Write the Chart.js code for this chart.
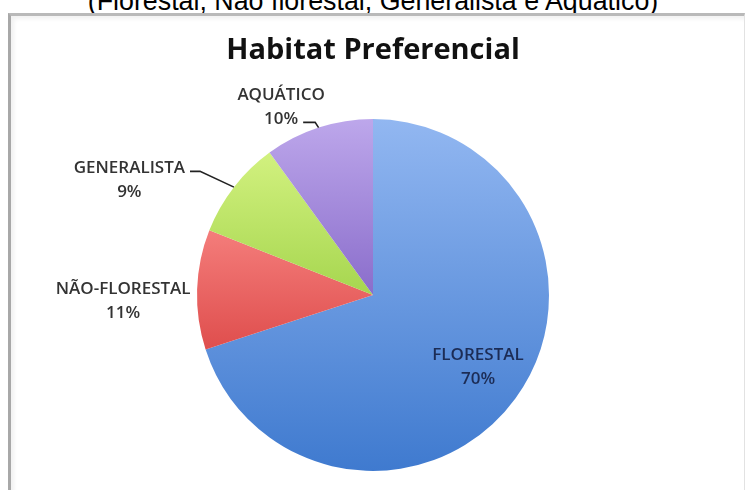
<!DOCTYPE html>
<html>
<head>
<meta charset="utf-8">
<script src="https://cdn.jsdelivr.net/npm/chart.js@4.4.0/dist/chart.umd.min.js"></script>
<style>
html, body { margin: 0; padding: 0; background: #fff; width: 746px; height: 490px; overflow: hidden; }
#caption { position: absolute; left: 0; top: -14px; width: 746px; text-align: center;
  font: 26.8px "Liberation Sans", Arial, sans-serif; line-height: 30px; color: #000; }
#frame { position: absolute; left: 8px; top: 13px; width: 733px; height: 500px;
  border-top: 3px solid #b9b9b9; border-left: 3px solid #a8a8a8; border-right: 1px solid #e2e2e2;
  box-shadow: inset 3px 3px 4px rgba(0,0,0,0.06); }
#chart { position: absolute; left: 0; top: 0; }
</style>
</head>
<body>
<div id="caption">(Florestal, Não florestal, Generalista e Aquático)</div>
<div id="frame"></div>
<canvas id="chart" width="746" height="490"></canvas>
<script>
// habitat shares (%)
const categories = ['FLORESTAL', 'NÃO-FLORESTAL', 'GENERALISTA', 'AQUÁTICO'];
const shares = [70, 11, 9, 10];

// light -> dark vertical shading for each slice
const sliceTop = ['#92b7f1', '#f47d7b', '#d2f17f', '#bda7eb'];
const sliceBottom = ['#3f7acf', '#df4e4d', '#a6d64f', '#8a6dcb'];

// label placement: distance in radii, angle nudge in degrees
const labelDistance = [0.725, 1.42, 1.53, 1.187];
const labelShift = [-1.4, -3.3, -12.6, -8.1];
const labelColor = ['#1c2c55', '#333', '#333', '#333'];
// which text row the leader line starts from (null = no leader)
const leaderRow = [null, null, 0, 1];
const leaderElbow = [0, 0, 10, 12];

function sliceGradient(c) {
  const chart = c.chart;
  const i = c.dataIndex;
  const area = chart.chartArea;
  if (!area) return sliceTop[i];
  // pie geometry straight from the chart area
  const cx = (area.left + area.right) / 2;
  const cy = (area.top + area.bottom) / 2;
  const r = Math.min(area.right - area.left, area.bottom - area.top) / 2;
  const total = shares.reduce((s, v) => s + v, 0);
  const before = shares.slice(0, i).reduce((s, v) => s + v, 0);
  const a0 = -Math.PI / 2 + before / total * 2 * Math.PI;
  const a1 = a0 + shares[i] / total * 2 * Math.PI;
  // vertical extent of the slice
  const ys = [cy];
  const steps = 36;
  for (let k = 0; k <= steps; k++) {
    ys.push(cy + Math.sin(a0 + (a1 - a0) * k / steps) * r);
  }
  const y0 = Math.min(...ys), y1 = Math.max(...ys);
  const g = chart.ctx.createLinearGradient(0, y0, 0, y1);
  g.addColorStop(0, sliceTop[i]);
  g.addColorStop(1, sliceBottom[i]);
  return g;
}

const pieLabels = {
  id: 'pieLabels',
  afterDatasetsDraw(chart) {
    const ctx = chart.ctx;
    const arcs = chart.getDatasetMeta(0).data;
    const rowGap = 24;
    ctx.save();
    ctx.font = '600 17px "Open Sans", sans-serif';
    ctx.textAlign = 'center';
    ctx.textBaseline = 'middle';
    arcs.forEach((arc, i) => {
      const { x, y, startAngle, endAngle, outerRadius } =
        arc.getProps(['x', 'y', 'startAngle', 'endAngle', 'outerRadius'], true);
      const mid = (startAngle + endAngle) / 2;
      const a = mid + labelShift[i] * Math.PI / 180;
      const d = outerRadius * labelDistance[i];
      const lx = x + Math.cos(a) * d;
      const ly = y + Math.sin(a) * d;
      const rows = [categories[i], shares[i] + '%'];
      ctx.fillStyle = labelColor[i];
      rows.forEach((t, k) => ctx.fillText(t, lx, ly + (k - 0.5) * rowGap));

      if (leaderRow[i] !== null) {
        const r = leaderRow[i];
        const ry = ly + (r - 0.5) * rowGap + 3;
        const ax = lx + ctx.measureText(rows[r]).width / 2 + 5;
        const ex = x + Math.cos(mid) * outerRadius;
        const ey = y + Math.sin(mid) * outerRadius;
        ctx.beginPath();
        ctx.moveTo(ax, ry);
        ctx.lineTo(ax + leaderElbow[i], ry);
        ctx.lineTo(ex, ey);
        ctx.strokeStyle = '#222';
        ctx.lineWidth = 1.6;
        ctx.stroke();
      }
    });
    ctx.restore();
  }
};

new Chart(document.getElementById('chart'), {
  type: 'pie',
  data: {
    labels: categories,
    datasets: [{
      data: shares,
      backgroundColor: sliceGradient,
      borderWidth: 0
    }]
  },
  options: {
    responsive: false,
    animation: false,
    layout: { padding: { left: 197, right: 197, top: 33, bottom: 19 } },
    plugins: {
      legend: { display: false },
      tooltip: { enabled: false },
      title: {
        display: true,
        text: 'Habitat Preferencial',
        color: '#111',
        font: { family: 'Open Sans', size: 29, weight: 'bold', lineHeight: 1.2 },
        padding: { top: 0, bottom: 51.2 }
      }
    }
  },
  plugins: [pieLabels]
});
</script>
</body>
</html>
